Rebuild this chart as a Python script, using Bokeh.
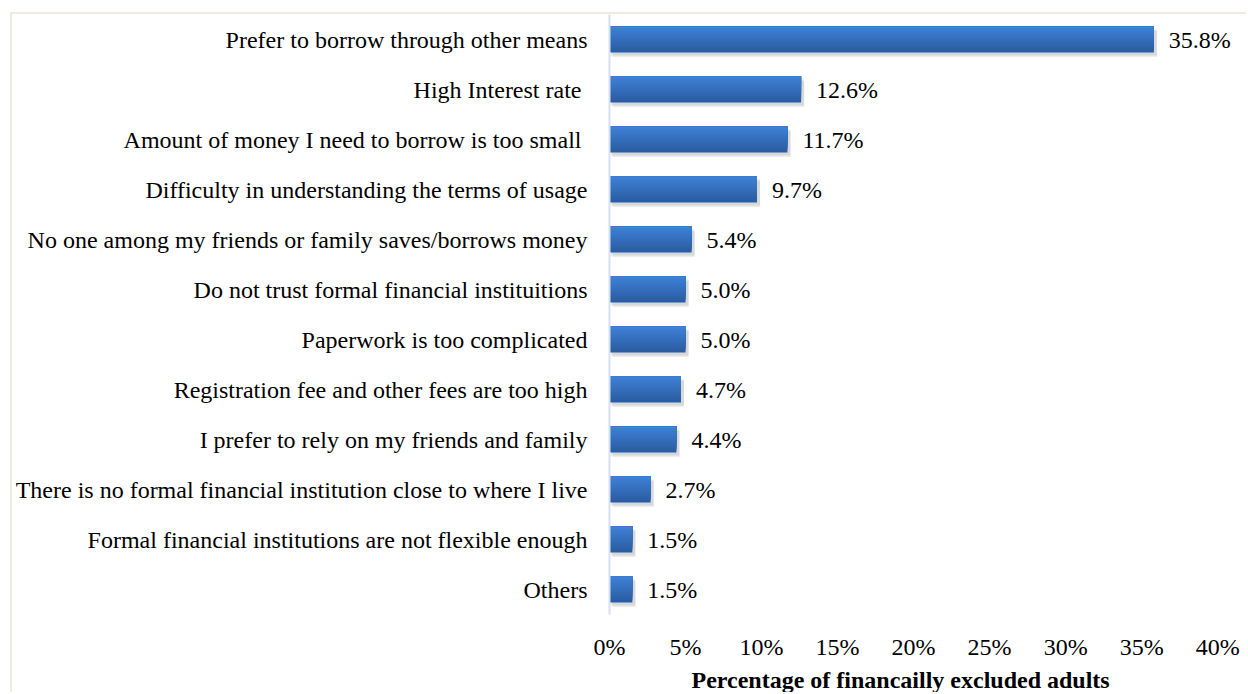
from bokeh.plotting import figure
from bokeh.models import FactorRange, Range1d, ColumnDataSource, PrintfTickFormatter, FixedTicker, Title
from bokeh.transform import dodge
from bokeh.core.properties import value
from bokeh.embed import file_html
from bokeh.resources import INLINE

categories = [
    "Prefer to borrow through other means",
    "High Interest rate ",
    "Amount of money I need to borrow is too small ",
    "Difficulty in understanding the terms of usage",
    "No one among my friends or family saves/borrows money",
    "Do not trust formal financial instituitions",
    "Paperwork is too complicated",
    "Registration fee and other fees are too high",
    "I prefer to rely on my friends and family",
    "There is no formal financial institution close to where I live",
    "Formal financial institutions are not flexible enough",
    "Others",
]
values = [35.8, 12.6, 11.7, 9.7, 5.4, 5.0, 5.0, 4.7, 4.4, 2.7, 1.5, 1.5]
x_ticks = [0, 5, 10, 15, 20, 25, 30, 35, 40]
x_title = "Percentage of financailly excluded adults"

labels = [f"{v:.1f}%" for v in values]
src = ColumnDataSource(dict(cat=categories, val=values, lab=labels,
                            shadow=[v + 0.2 for v in values]))

FONT = "Liberation Serif"

p = figure(width=1236, height=680,
           y_range=FactorRange(factors=categories[::-1]),
           x_range=Range1d(0, 41.5),
           output_backend="svg", toolbar_location=None,
           min_border_left=596, min_border_right=8,
           min_border_top=0, min_border_bottom=79)
p.styles = {"border-top": "2px solid #EFEBE1", "border-left": "2px solid #EFEBE1",
            "margin-left": "10px", "margin-top": "12px"}

p.outline_line_color = None
p.xgrid.grid_line_color = None
p.ygrid.grid_line_color = None

BH = 0.52
# soft shadow
p.hbar(y=dodge("cat", -0.09, range=p.y_range), left=0.2, right="shadow", height=BH,
       source=src, fill_color="#9a9a9a", fill_alpha=0.18, line_color=None)
p.hbar(y=dodge("cat", -0.06, range=p.y_range), left=0.1, right="shadow", height=BH,
       source=src, fill_color="#9a9a9a", fill_alpha=0.25, line_color=None)

# gradient bar: dark full bar, lighter layers anchored at the top
top_rgb = (62, 128, 212)
bot_rgb = (42, 92, 160)
N = 12
for k in range(N):
    t = k / (N - 1)
    c = tuple(int(round(b + (a - b) * t)) for a, b in zip(top_rgb, bot_rgb))
    h = BH * (N - k) / N
    off = BH / 2 - h / 2
    p.hbar(y=dodge("cat", off, range=p.y_range), left=0, right="val", height=h,
           source=src, fill_color="#%02x%02x%02x" % c, line_color=None)

p.text(x="val", y="cat", text="lab", source=src, x_offset=15,
       text_align="left", text_baseline="middle",
       text_font=value(FONT), text_font_size="24px", text_color="#000000")

xa = p.xaxis[0]
xa.ticker = FixedTicker(ticks=x_ticks)
xa.formatter = PrintfTickFormatter(format="%d%%")
xa.axis_line_color = None
xa.major_tick_line_color = None
xa.minor_tick_line_color = None
xa.major_tick_out = 0
xa.major_tick_in = 0
xa.major_label_standoff = 19
xa.major_label_text_font = FONT
xa.major_label_text_font_size = "24px"
xa.major_label_text_color = "#000000"
xa.major_label_text_line_height = 1.0

title = Title(text=x_title, align="left", offset=82, standoff=4,
              text_font=FONT, text_font_size="24px", text_font_style="bold",
              text_color="#000000")
p.add_layout(title, "below")

ya = p.yaxis[0]
ya.axis_line_color = "#D5E0F0"
ya.axis_line_width = 2
ya.major_tick_line_color = None
ya.major_tick_out = 0
ya.major_tick_in = 0
ya.major_label_standoff = 22
ya.major_label_text_font = FONT
ya.major_label_text_font_size = "24px"
ya.major_label_text_color = "#000000"

open("out.html", "w").write(file_html(p, INLINE))
